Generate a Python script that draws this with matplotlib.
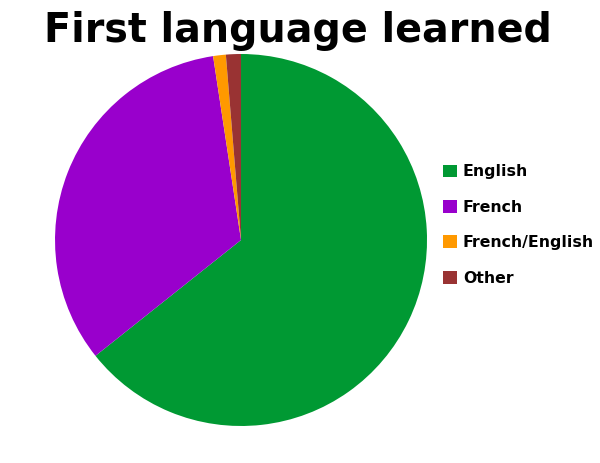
import matplotlib
matplotlib.use("Agg")
import matplotlib.pyplot as plt

# first language shares (percent)
languages = ["English", "French", "French/English", "Other"]
shares = [64.3, 33.3, 1.1, 1.3]
colors = ["#009933", "#9900cc", "#ff9900", "#993333"]

fig = plt.figure(figsize=(6, 4.63), dpi=100)
ax = fig.add_axes([0.0917, 0.0799, 0.62, 0.8035])

wedges, _ = ax.pie(shares, colors=colors, startangle=90, counterclock=False,
                   radius=1.0, wedgeprops={"linewidth": 0})
ax.set_xlim(-1, 1)
ax.set_ylim(-1, 1)
ax.set_aspect("equal")
ax.axis("off")

fig.text(0.497, 0.934, "First language learned", ha="center", va="center",
         fontsize=28.5, fontweight="bold")

leg = fig.legend(wedges, languages, loc="upper left",
                 bbox_to_anchor=(0.738, 0.645), frameon=False,
                 prop={"weight": "bold", "size": 11.3},
                 handlelength=0.88, handleheight=0.88, handletextpad=0.4,
                 labelspacing=1.3, borderaxespad=0, borderpad=0)

fig.savefig("out.png", dpi=100)
